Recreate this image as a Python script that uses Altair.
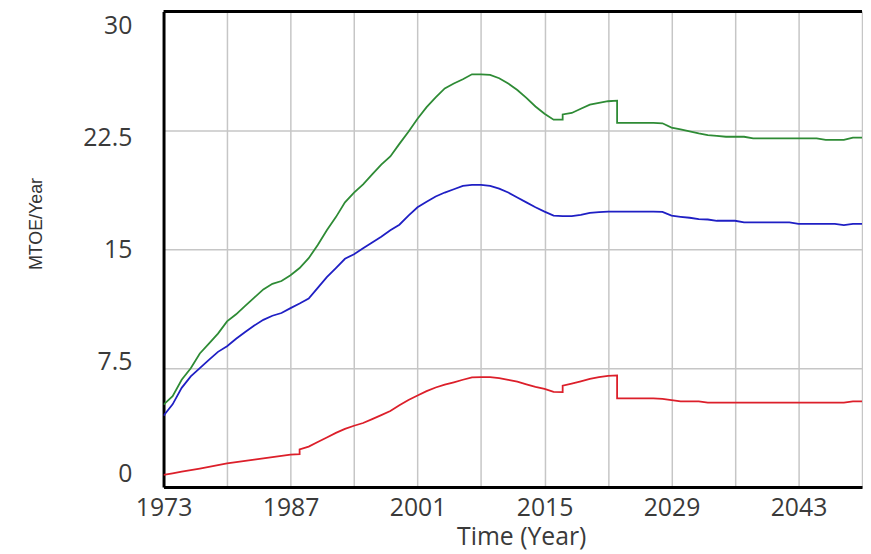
import altair as alt
import pandas as pd

# ---- data ----
years = [1973, 1974, 1975, 1976, 1977, 1978, 1979, 1980, 1981, 1982,
         1983, 1984, 1985, 1986, 1987, 1988, 1988, 1989, 1990, 1991,
         1992, 1993, 1994, 1995, 1996, 1997, 1998, 1999, 2000, 2001,
         2002, 2003, 2004, 2005, 2006, 2007, 2008, 2009, 2010, 2011,
         2012, 2013, 2014, 2015, 2016, 2017, 2017, 2018, 2019, 2020,
         2021, 2022, 2023, 2023, 2024, 2025, 2026, 2027, 2028, 2029,
         2030, 2031, 2032, 2033, 2034, 2035, 2036, 2037, 2038, 2039,
         2040, 2041, 2042, 2043, 2044, 2045, 2046, 2047, 2048, 2049,
         2050]

green_vals = [5.2, 5.74, 6.77, 7.5, 8.43, 9.05, 9.68, 10.45, 10.9, 11.43,
              11.95, 12.47, 12.82, 13.0, 13.36, 13.82, 13.82, 14.44, 15.27, 16.2,
              17.03, 17.96, 18.58, 19.1, 19.72, 20.34, 20.86, 21.65, 22.42, 23.24,
              23.97, 24.59, 25.15, 25.46, 25.73, 26.04, 26.04, 26.0, 25.79, 25.46,
              25.05, 24.55, 24.01, 23.55, 23.18, 23.18, 23.51, 23.6, 23.87, 24.13,
              24.24, 24.34, 24.38, 22.98, 22.98, 22.98, 22.98, 22.98, 22.95, 22.68,
              22.56, 22.44, 22.31, 22.2, 22.16, 22.1, 22.1, 22.1, 22.0, 22.0,
              22.0, 22.0, 22.0, 22.0, 22.0, 22.0, 21.9, 21.9, 21.9, 22.05,
              22.05]

blue_vals = [4.5, 5.22, 6.26, 6.98, 7.5, 8.02, 8.53, 8.89, 9.36, 9.78,
             10.19, 10.55, 10.81, 10.98, 11.29, 11.58, 11.58, 11.89, 12.57, 13.24,
             13.82, 14.4, 14.69, 15.06, 15.43, 15.79, 16.2, 16.55, 17.13, 17.65,
             18.0, 18.33, 18.58, 18.79, 19.0, 19.06, 19.06, 19.0, 18.83, 18.58,
             18.27, 17.96, 17.65, 17.38, 17.13, 17.09, 17.09, 17.09, 17.17, 17.3,
             17.35, 17.38, 17.38, 17.38, 17.38, 17.38, 17.38, 17.38, 17.36, 17.12,
             17.05, 16.99, 16.9, 16.88, 16.8, 16.8, 16.8, 16.7, 16.7, 16.7,
             16.7, 16.7, 16.7, 16.61, 16.61, 16.61, 16.61, 16.61, 16.53, 16.61,
             16.61]

red_vals = [0.77, 0.87, 0.97, 1.07, 1.17, 1.27, 1.38, 1.49, 1.57, 1.65,
            1.73, 1.81, 1.89, 1.97, 2.05, 2.08, 2.38, 2.55, 2.84, 3.13,
            3.42, 3.67, 3.87, 4.04, 4.29, 4.54, 4.8, 5.16, 5.49, 5.78,
            6.05, 6.28, 6.46, 6.61, 6.77, 6.92, 6.94, 6.94, 6.88, 6.77,
            6.65, 6.48, 6.32, 6.2, 6.01, 5.99, 6.4, 6.53, 6.67, 6.82,
            6.93, 7.02, 7.04, 5.59, 5.59, 5.59, 5.59, 5.59, 5.57, 5.49,
            5.41, 5.41, 5.41, 5.33, 5.33, 5.33, 5.33, 5.33, 5.33, 5.33,
            5.33, 5.33, 5.33, 5.33, 5.33, 5.33, 5.33, 5.33, 5.33, 5.41,
            5.41]

series_names = ["Series 1", "Series 2", "Series 3"]
series_colors = ["#2e8b35", "#1f1fc4", "#dc1f2a"]
y_ticks = [0, 7.5, 15, 22.5, 30]
y_label_shift = [-14, -7, 0, 7, 14]   # Vensim-style label placement
x_ticks = list(range(1973, 2051, 7))

rows = []
for name, vals in zip(series_names, [green_vals, blue_vals, red_vals]):
    for i, (yr, v) in enumerate(zip(years, vals)):
        rows.append({"series": name, "year": yr, "value": v, "idx": i})
df = pd.DataFrame(rows)

W, H = 705, 480
LABEL_FONT = "Open Sans"

x_axis = alt.Axis(
    values=x_ticks,
    title="Time (Year)",
    labelExpr="(datum.value - 1973) % 14 == 0 ? '' + datum.value : ''",
    labelFont=LABEL_FONT, labelFontSize=25, labelColor="#3a3a3a",
    labelPadding=9, labelOverlap=False, labelFlush=False,
    ticks=False, tickSize=0,
    domainColor="black", domainWidth=3,
    gridColor="#c6c6c6", gridWidth=1.5,
    titleFont=LABEL_FONT, titleFontSize=25, titleFontWeight="normal",
    titleColor="#3a3a3a", titleX=361, titleY=58,
    titleBaseline="alphabetic", titleAlign="center",
)

label_offset = {
    "condition": [
        {"test": f"datum.value == {v}", "value": s}
        for v, s in zip(y_ticks, y_label_shift) if s != 0
    ],
    "value": 0,
}

y_axis = alt.Axis(
    values=y_ticks,
    title="MTOE/Year",
    labelExpr="'' + datum.value",
    labelFont=LABEL_FONT, labelFontSize=25, labelColor="#3a3a3a",
    labelPadding=32, labelOverlap=False, labelFlush=False,
    labelOffset=label_offset,
    ticks=False, tickSize=0,
    domainColor="black", domainWidth=3,
    gridColor="#c6c6c6", gridWidth=1.5,
    titleFont="Liberation Sans", titleFontSize=18,
    titleFontWeight="normal", titleColor="#333333",
    titleX=-128, titleY=214, titleAngle=270,
    titleBaseline="middle", titleAlign="center",
)

lines = alt.Chart(df).mark_line(strokeWidth=1.8, clip=True).encode(
    x=alt.X("year:Q", scale=alt.Scale(domain=[1973, 2050], nice=False, zero=False), axis=x_axis),
    y=alt.Y("value:Q", scale=alt.Scale(domain=[0, 30], nice=False), axis=y_axis),
    color=alt.Color("series:N", scale=alt.Scale(domain=series_names, range=series_colors), legend=None),
    order=alt.Order("idx:Q"),
)

top_border = alt.Chart(pd.DataFrame({"k": [0]})).mark_rule(color="black", strokeWidth=3).encode(
    x=alt.value(0), x2=alt.value(W), y=alt.value(0)
)

chart = (lines + top_border).properties(
    width=W, height=H,
    autosize=alt.AutoSizeParams(type="none"),
    padding={"left": 157, "top": 1, "right": 1, "bottom": 65},
).configure_view(stroke=None).configure(background="white")

chart.save("out.html", embed_options={"renderer": "svg", "actions": False})
